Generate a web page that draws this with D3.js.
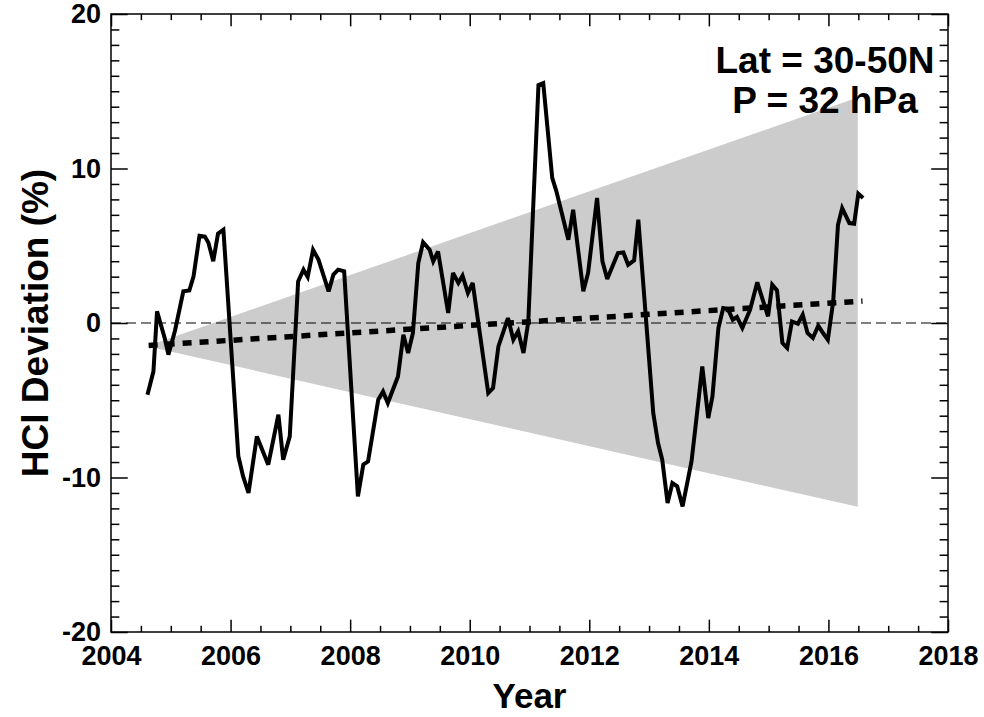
<!DOCTYPE html>
<html>
<head>
<meta charset="utf-8">
<script src="https://cdn.jsdelivr.net/npm/d3@7"></script>
<style>
  html, body { margin: 0; padding: 0; background: #ffffff; }
  svg { display: block; }
  text { font-family: "Liberation Sans", Arial, Helvetica, sans-serif; font-weight: bold; fill: #000; }
</style>
</head>
<body>
<svg id="chart" width="984" height="717"></svg>
<script>
// Monthly HCl deviation series (decimal year, percent)
const years = [
  2004.61, 2004.71, 2004.77, 2004.90, 2004.96, 2005.07, 2005.21, 2005.31, 2005.38, 2005.48,
  2005.57, 2005.63, 2005.71, 2005.79, 2005.88, 2006.13, 2006.21, 2006.30, 2006.44, 2006.63,
  2006.80, 2006.88, 2006.99, 2007.13, 2007.22, 2007.29, 2007.38, 2007.47, 2007.64, 2007.72,
  2007.80, 2007.90, 2008.13, 2008.22, 2008.30, 2008.47, 2008.55, 2008.63, 2008.80, 2008.89,
  2008.97, 2009.05, 2009.14, 2009.22, 2009.33, 2009.39, 2009.47, 2009.64, 2009.72, 2009.81,
  2009.88, 2009.97, 2010.05, 2010.31, 2010.39, 2010.48, 2010.64, 2010.73, 2010.81, 2010.90,
  2010.98, 2011.06, 2011.15, 2011.23, 2011.38, 2011.45, 2011.65, 2011.73, 2011.90, 2011.98,
  2012.13, 2012.22, 2012.30, 2012.48, 2012.57, 2012.65, 2012.75, 2012.82, 2013.07, 2013.15,
  2013.22, 2013.31, 2013.39, 2013.47, 2013.56, 2013.71, 2013.79, 2013.89, 2013.99, 2014.06,
  2014.16, 2014.24, 2014.32, 2014.40, 2014.47, 2014.56, 2014.69, 2014.81, 2014.90, 2014.99,
  2015.06, 2015.14, 2015.23, 2015.31, 2015.39, 2015.49, 2015.57, 2015.65, 2015.74, 2015.83,
  2015.91, 2015.99, 2016.08, 2016.16, 2016.23, 2016.35, 2016.43, 2016.50, 2016.58
];
const deviation = [
  -4.64, -3.13, 0.75, -1.0, -2.05, -0.5, 2.05, 2.1, 3.0, 5.65,
  5.6, 5.2, 4.0, 5.78, 6.04, -8.63, -9.93, -11.0, -7.34, -9.17,
  -5.94, -8.85, -7.34, 2.69, 3.45, 2.98, 4.74, 4.1, 2.05, 3.13,
  3.45, 3.34, -11.22, -9.17, -8.96, -4.96, -4.43, -5.18, -3.46, -0.76,
  -1.94, -0.65, 3.88, 5.22, 4.74, 3.99, 4.63, 0.65, 3.24, 2.59,
  3.06, 1.94, 2.59, -4.53, -4.21, -1.51, 0.32, -1.08, -0.54, -1.94,
  0.1, 7.33, 15.4, 15.53, 9.39, 8.52, 5.39, 7.33, 2.05, 3.24,
  8.09, 3.99, 2.85, 4.53, 4.57, 3.77, 4.05, 6.69, -5.83, -7.77,
  -8.85, -11.65, -10.36, -10.57, -11.87, -8.96, -6.26, -2.81, -6.15, -4.75,
  -0.32, 0.97, 0.9, 0.21, 0.39, -0.32, 0.86, 2.63, 1.51, 0.43,
  2.48, 2.11, -1.29, -1.62, 0.1, -0.05, 0.54, -0.65, -0.97, -0.18,
  -0.65, -1.08, 1.4, 6.36, 7.44, 6.47, 6.43, 8.37, 8.09
];

// Linear trend end points (year, percent)
const trendYears = [2004.63, 2016.57];
const trendValues = [-1.45, 1.42];

// Uncertainty wedge: apex, then upper and lower bounds at the end year
const wedgeYears = [2004.60, 2016.49, 2016.49];
const wedgeValues = [-1.5, 14.6, -11.9];

// Axis ticks and annotation
const xMajorTicks = [2004, 2006, 2008, 2010, 2012, 2014, 2016, 2018];
const yMajorTicks = [-20, -10, 0, 10, 20];
const annotation = ["Lat = 30-50N", "P = 32 hPa"];
const xTitle = "Year";
const yTitle = "HCl Deviation (%)";

const svg = d3.select("#chart");
const m = { left: 111, right: 948, top: 14, bottom: 632 };
const plotW = m.right - m.left, plotH = m.bottom - m.top;

const x = d3.scaleLinear().domain([2004, 2018]).range([m.left, m.right]);
const y = d3.scaleLinear().domain([-20, 20]).range([m.bottom, m.top]);

const xMinor = d3.range(2004, 2018.01, 0.5).filter(v => !xMajorTicks.includes(v));
const yMinor = d3.range(-20, 20.01, 1).filter(v => !yMajorTicks.includes(v));

const xLen = 0.02 * plotH;  // x tick length
const yLen = 0.02 * plotW;  // y tick length

// Uncertainty wedge
svg.append("path")
  .datum(d3.zip(wedgeYears, wedgeValues))
  .attr("d", d3.line().x(d => x(d[0])).y(d => y(d[1])).curve(d3.curveLinearClosed))
  .attr("fill", "#cccccc")
  .attr("stroke", "none");

// Zero reference line
svg.append("line")
  .attr("x1", m.left).attr("x2", m.right)
  .attr("y1", y(0)).attr("y2", y(0))
  .attr("stroke", "#000").attr("stroke-width", 1.2)
  .attr("stroke-dasharray", "10,5");

// Trend line
svg.append("path")
  .datum(d3.zip(trendYears, trendValues))
  .attr("d", d3.line().x(d => x(d[0])).y(d => y(d[1])))
  .attr("fill", "none")
  .attr("stroke", "#000").attr("stroke-width", 5.5)
  .attr("stroke-dasharray", "9,8");

// Data series
svg.append("path")
  .datum(d3.zip(years, deviation))
  .attr("d", d3.line().x(d => x(d[0])).y(d => y(d[1])))
  .attr("fill", "none")
  .attr("stroke", "#000").attr("stroke-width", 4)
  .attr("stroke-linejoin", "miter")
  .attr("stroke-miterlimit", 3);

// Axes with inward ticks
function styleAxis(g) {
  g.select(".domain").remove();
  g.selectAll(".tick line").attr("stroke", "#000").attr("stroke-width", 1.5);
}
function styleLabels(g) {
  g.selectAll("text")
    .attr("font-size", 27)
    .attr("font-family", "Liberation Sans, Arial, sans-serif")
    .attr("font-weight", "bold")
    .attr("fill", "#000");
}
const fmt = v => String(v);

svg.append("g").attr("transform", `translate(0,${m.bottom})`)
  .call(d3.axisBottom(x).tickValues(xMajorTicks).tickSize(-xLen).tickPadding(14).tickFormat(fmt))
  .call(styleAxis).call(styleLabels);
svg.append("g").attr("transform", `translate(0,${m.bottom})`)
  .call(d3.axisBottom(x).tickValues(xMinor).tickSize(-xLen / 2).tickFormat(""))
  .call(styleAxis);
svg.append("g").attr("transform", `translate(0,${m.top})`)
  .call(d3.axisTop(x).tickValues(xMajorTicks).tickSize(-xLen).tickFormat(""))
  .call(styleAxis);
svg.append("g").attr("transform", `translate(0,${m.top})`)
  .call(d3.axisTop(x).tickValues(xMinor).tickSize(-xLen / 2).tickFormat(""))
  .call(styleAxis);

svg.append("g").attr("transform", `translate(${m.left},0)`)
  .call(d3.axisLeft(y).tickValues(yMajorTicks).tickSize(-yLen).tickPadding(10).tickFormat(fmt))
  .call(styleAxis).call(styleLabels);
svg.append("g").attr("transform", `translate(${m.left},0)`)
  .call(d3.axisLeft(y).tickValues(yMinor).tickSize(-yLen / 2).tickFormat(""))
  .call(styleAxis);
svg.append("g").attr("transform", `translate(${m.right},0)`)
  .call(d3.axisRight(y).tickValues(yMajorTicks).tickSize(-yLen).tickFormat(""))
  .call(styleAxis);
svg.append("g").attr("transform", `translate(${m.right},0)`)
  .call(d3.axisRight(y).tickValues(yMinor).tickSize(-yLen / 2).tickFormat(""))
  .call(styleAxis);

// Plot frame
svg.append("rect")
  .attr("x", m.left).attr("y", m.top).attr("width", plotW).attr("height", plotH)
  .attr("fill", "none").attr("stroke", "#000").attr("stroke-width", 1.5);

// Axis titles
svg.append("text")
  .attr("x", (m.left + m.right) / 2).attr("y", 708)
  .attr("text-anchor", "middle").attr("font-size", 35)
  .text(xTitle);
svg.append("text")
  .attr("transform", `translate(48,${(m.top + m.bottom) / 2}) rotate(-90)`)
  .attr("text-anchor", "middle").attr("font-size", 37)
  .text(yTitle);

// Annotation
svg.selectAll("text.note").data(annotation).join("text")
  .attr("class", "note")
  .attr("x", 825).attr("y", (d, i) => 73 + i * 40)
  .attr("text-anchor", "middle").attr("font-size", 37)
  .text(d => d);
</script>
</body>
</html>
